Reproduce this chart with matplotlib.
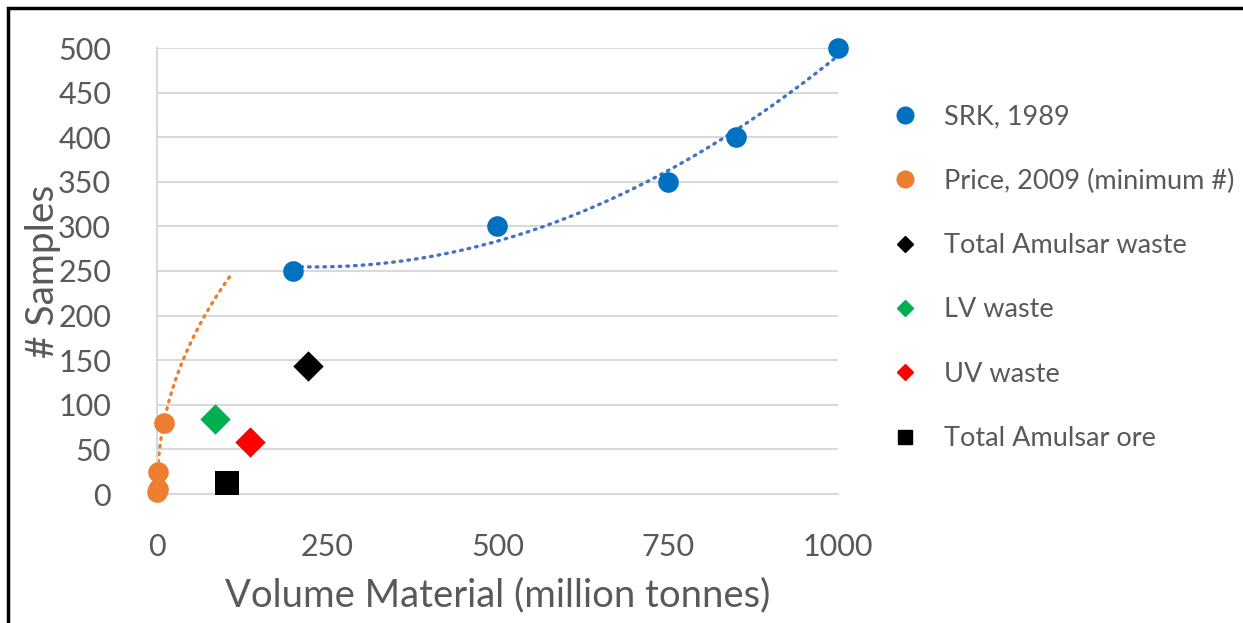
import numpy as np
import matplotlib
matplotlib.use("Agg")
import matplotlib.pyplot as plt
import matplotlib.patches as mpatches
from matplotlib.lines import Line2D

plt.rcParams['font.family'] = ['Lato', 'DejaVu Sans']

# data
srk_x = [200, 500, 750, 850, 1000]
srk_y = [250, 300, 350, 400, 500]

price_x = [0.5, 1, 1, 10]
price_y = [2, 6, 25, 80]

waste_total = (222, 144)
waste_lv    = (85, 84)
waste_uv    = (137, 58)
ore_total   = (103, 12)

TEXT = "#595959"
GRID = "#D9D9D9"

fig = plt.figure(figsize=(12.43, 6.23), dpi=100)
ax = fig.add_axes([157/1243, 1 - 494/623, (838-157)/1243, (494-48)/623])

# trendlines
c2 = np.polyfit(srk_x, srk_y, 2)
tx = np.linspace(200, 1000, 200)
ax.plot(tx, np.polyval(c2, tx), color="#4472C4", lw=2.4,
        linestyle=(0, (0.5, 1.8)), dash_capstyle="round", zorder=2)

# power trend for Price (y = a x^b), drawn forward like Excel does
b, lna = np.polyfit(np.log([1, 107]), np.log([27, 244]), 1)
ptx = np.linspace(1.8, 108, 200)
ax.plot(ptx, np.exp(lna) * ptx ** b, color="#ED7D31", lw=2.4,
        linestyle=(0, (0.5, 1.8)), dash_capstyle="round", zorder=2)

kw = dict(zorder=3, linewidths=0, clip_on=False)
ax.scatter(srk_x, srk_y, s=220, color="#0070C0", **kw)
ax.scatter(price_x, price_y, s=220, color="#ED7D31", **kw)
ax.scatter(*waste_total, s=240, marker="D", color="black", **kw)
ax.scatter(*waste_lv, s=240, marker="D", color="#00B050", **kw)
ax.scatter(*waste_uv, s=240, marker="D", color="#FF0000", **kw)
ax.scatter(*ore_total, s=300, marker="s", color="black", **kw)

ax.set_xlim(0, 1000)
ax.set_ylim(0, 500)
ax.set_xticks([0, 250, 500, 750, 1000])
ax.set_yticks(range(0, 501, 50))
ax.yaxis.grid(True, color=GRID, lw=1.5, zorder=0)
ax.set_axisbelow(True)
for s in ["top", "right"]:
    ax.spines[s].set_visible(False)
ax.spines["left"].set_color(GRID)
ax.spines["bottom"].set_color(GRID)
ax.spines["left"].set_linewidth(1.5)
ax.spines["bottom"].set_linewidth(1.5)
ax.tick_params(length=0, labelsize=22, labelcolor=TEXT)
ax.tick_params(axis="x", pad=28)
ax.tick_params(axis="y", pad=33)
ax.set_xlabel("Volume Material (million tonnes)", fontsize=27.5, color=TEXT, labelpad=12)
ax.set_ylabel("# Samples", fontsize=28, color=TEXT, labelpad=-2)

handles = [
    Line2D([], [], ls="", marker="o", ms=12, color="#0070C0", label="SRK, 1989"),
    Line2D([], [], ls="", marker="o", ms=12, color="#ED7D31", label="Price, 2009 (minimum #)"),
    Line2D([], [], ls="", marker="D", ms=8, color="black", label="Total Amulsar waste"),
    Line2D([], [], ls="", marker="D", ms=8, color="#00B050", label="LV waste"),
    Line2D([], [], ls="", marker="D", ms=8, color="#FF0000", label="UV waste"),
    Line2D([], [], ls="", marker="s", ms=10, color="black", label="Total Amulsar ore"),
]
leg = fig.legend(handles=handles, loc="upper left", bbox_to_anchor=(878/1243, 1 - 91/623),
                 frameon=False, fontsize=19.5, labelcolor=TEXT, labelspacing=1.45,
                 handletextpad=0.95, handlelength=1.0, borderpad=0)

# outer frame (cropped on right/bottom in reference)
fig.add_artist(mpatches.Rectangle((8/1243, -0.1), 1.2, 1 - 8/623 + 0.1,
                                  transform=fig.transFigure, fill=False,
                                  edgecolor="black", lw=2.5))

fig.savefig("out.png", dpi=100)
